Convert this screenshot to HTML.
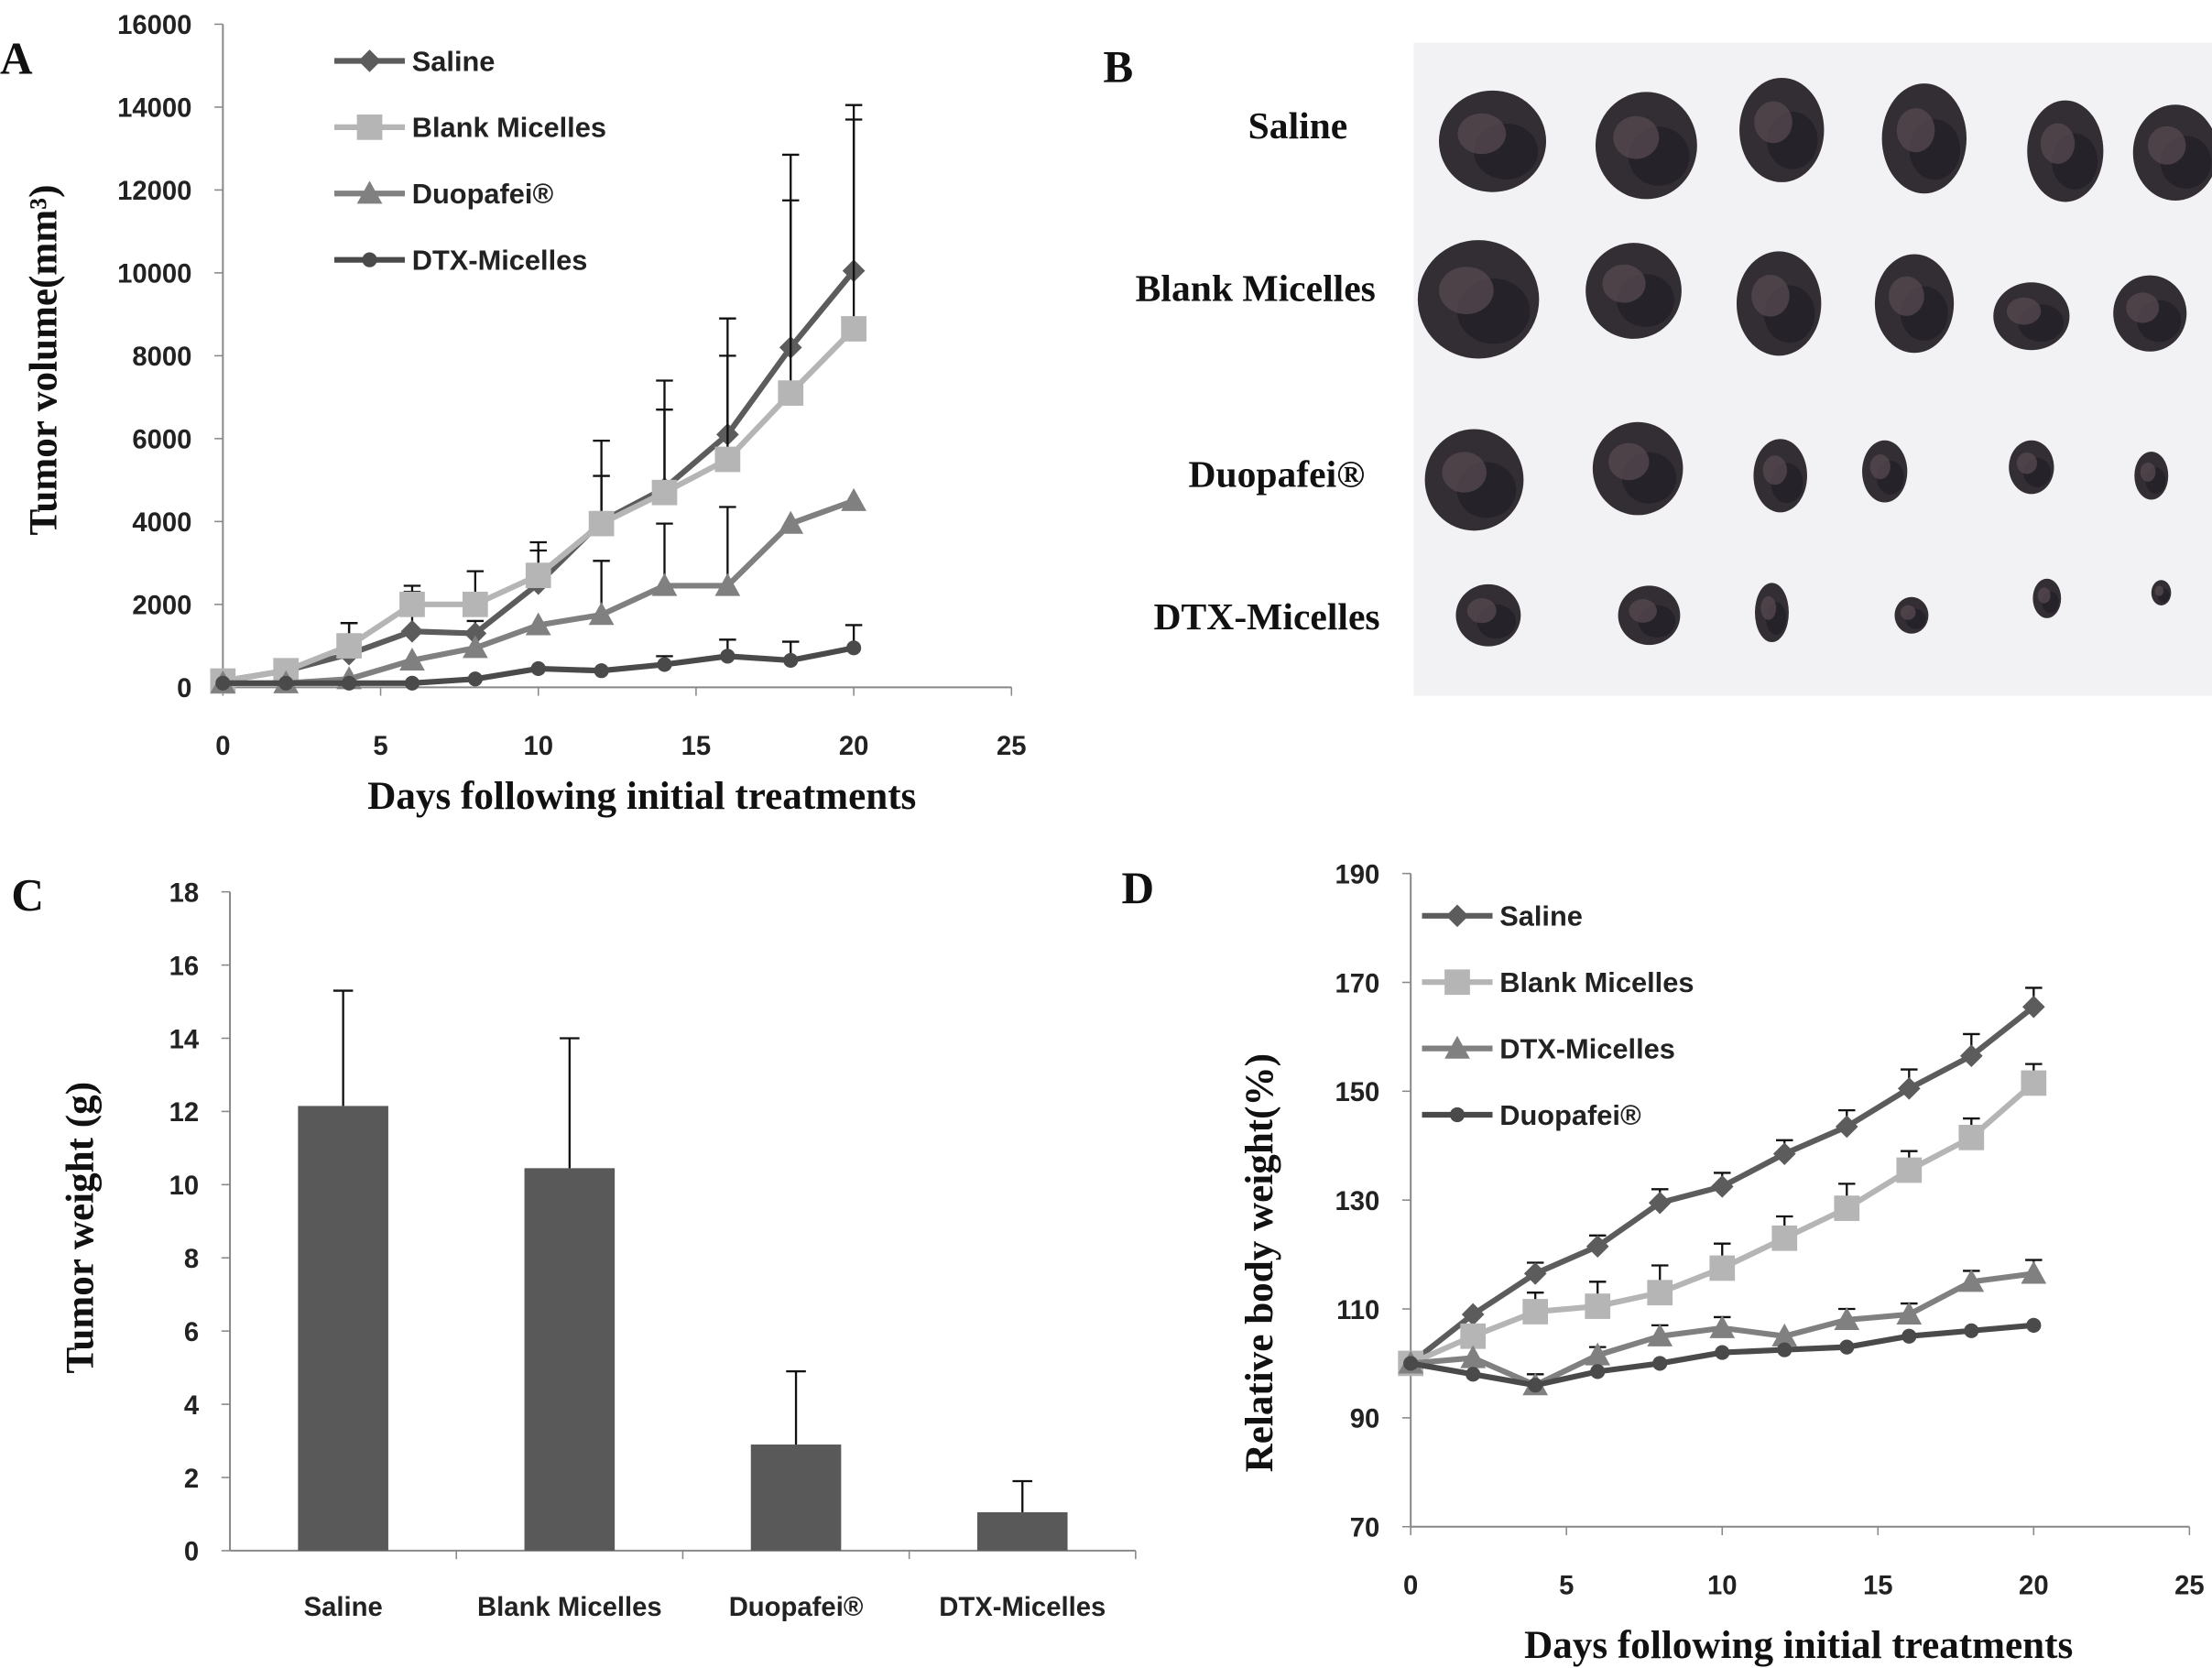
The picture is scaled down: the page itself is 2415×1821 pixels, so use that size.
<!DOCTYPE html>
<html><head><meta charset="utf-8"><style>
html,body{margin:0;padding:0;background:#fff;}
svg{display:block;}
.tk{font-family:"Liberation Sans",sans-serif;font-weight:bold;font-size:19px;fill:#222;}
.tt{font-family:"Liberation Serif",serif;font-weight:bold;font-size:28px;fill:#111;}
.pl{font-family:"Liberation Serif",serif;font-weight:bold;font-size:32px;fill:#111;}
.lg{font-family:"Liberation Sans",sans-serif;font-weight:bold;font-size:20px;fill:#222;}
.bl{font-family:"Liberation Serif",serif;font-weight:bold;font-size:27px;fill:#111;}
</style></head><body>
<svg id="fig" width="2415" height="1821" viewBox="0 0 1568 1182" xmlns="http://www.w3.org/2000/svg">
<g id="pa"></g>
<g id="pb"></g>
<g id="pc"></g>
<g id="pd"></g>
</svg>
<script>
// ---- Panel A data ----
const daysA = [0,2,4,6,8,10,12,14,16,18,20];
const salineA = [150,400,800,1350,1300,2500,4000,4800,6100,8200,10050];
const salineAErr = [null,null,1550,2450,1600,3300,5100,6700,8000,11750,13700];
const blankA = [150,400,1000,2000,2000,2700,3950,4700,5500,7100,8650];
const blankAErr = [null,null,1550,2300,2800,3500,5950,7400,8900,12850,14050];
const duoA = [100,100,200,650,950,1500,1750,2450,2450,3950,4500];
const duoAErr = [null,null,null,null,null,null,3050,3950,4350,null,null];
const dtxA = [100,100,100,100,200,450,400,550,750,650,950];
const dtxAErr = [null,null,null,null,null,null,null,750,1150,1100,1500];
const yTicksA = [0,2000,4000,6000,8000,10000,12000,14000,16000];
const xTicks = [0,5,10,15,20,25];
// ---- Panel C data ----
const groupsC = ["Saline","Blank Micelles","Duopafei\u00AE","DTX-Micelles"];
const weightsC = [12.15,10.45,2.9,1.05];
const weightsCErr = [15.3,14.0,4.9,1.9];
const yTicksC = [0,2,4,6,8,10,12,14,16,18];
// ---- Panel D data ----
const daysD = [0,2,4,6,8,10,12,14,16,18,20];
const salineD = [100,109,116.5,121.5,129.5,132.5,138.5,143.5,150.5,156.5,165.5];
const salineDErr = [null,null,118.5,123.5,132,135,141,146.5,154,160.5,169];
const blankD = [100,105,109.5,110.5,113,117.5,123,128.5,135.5,141.5,151.5];
const blankDErr = [null,null,113,115,118,122,127,133,139,145,155];
const dtxD = [100,101,96,101.5,105,106.5,105,108,109,115,116.5];
const dtxDErr = [null,null,98,103,107,108.5,null,110,111,117,119];
const duoD = [100,98,96,98.5,100,102,102.5,103,105,106,107];
const yTicksD = [70,90,110,130,150,170,190];

const NS="http://www.w3.org/2000/svg";
function mk(parent,tag,attrs,txt){const e=document.createElementNS(NS,tag);for(const k in attrs)e.setAttribute(k,attrs[k]);if(txt!==undefined)e.textContent=txt;parent.appendChild(e);return e;}

function marker(g,type,x,y,col,s){
  if(type==="diamond") return mk(g,"polygon",{points:`${x},${y-s} ${x+s},${y} ${x},${y+s} ${x-s},${y}`,fill:col});
  if(type==="square") return mk(g,"rect",{x:x-s,y:y-s,width:2*s,height:2*s,fill:col});
  if(type==="triangle") return mk(g,"polygon",{points:`${x},${y-s} ${x+s},${y+s*0.8} ${x-s},${y+s*0.8}`,fill:col});
  return mk(g,"circle",{cx:x,cy:y,r:s*0.75,fill:col});
}

function lineChart(g,opt){
  const sx=v=>opt.x0+(v-opt.xmin)/(opt.xmax-opt.xmin)*(opt.x1-opt.x0);
  const sy=v=>opt.y0-(v-opt.ymin)/(opt.ymax-opt.ymin)*(opt.y0-opt.y1);
  const ax=mk(g,"g",{});
  
  
  mk(ax,"line",{x1:opt.x0,y1:opt.y1,x2:opt.x0,y2:opt.y0,stroke:"#888","stroke-width":1.3});
  mk(ax,"line",{x1:opt.x0,y1:opt.y0,x2:opt.x1,y2:opt.y0,stroke:"#888","stroke-width":1.3});
  opt.yt.forEach(t=>{const y=sy(t);mk(ax,"line",{x1:opt.x0-6,y1:y,x2:opt.x0,y2:y,stroke:"#888"});
    const tx=mk(ax,"text",{x:opt.x0-22,y:y+7,"text-anchor":"end",class:"tk"},String(t));
    
    });
  opt.xt.forEach(t=>{const x=sx(t);mk(ax,"line",{x1:x,y1:opt.y0,x2:x,y2:opt.y0+6,stroke:"#888"});
    const tx=mk(ax,"text",{x:x,y:opt.y0+48,"text-anchor":"middle",class:"tk"},String(t));
    
    });
  opt.series.forEach(s=>{
    const sg=mk(g,"g",{});
    
    
    if(s.err) s.err.forEach((e,i)=>{ if(e==null) return; const x=sx(opt.days[i]);
      mk(sg,"line",{x1:x,y1:sy(s.vals[i]),x2:x,y2:sy(e),stroke:"#111","stroke-width":1.5});
      mk(sg,"line",{x1:x-6,y1:sy(e),x2:x+6,y2:sy(e),stroke:"#111","stroke-width":1.5});});
    const pts=s.vals.map((v,i)=>sx(opt.days[i])+","+sy(v)).join(" ");
    mk(sg,"polyline",{points:pts,fill:"none",stroke:s.col,"stroke-width":4});
    s.vals.forEach((v,i)=>{const m=marker(sg,s.mk,sx(opt.days[i]),sy(v),s.col,s.ms);
      
      });
  });
  opt.legend.forEach((s,i)=>{
    const y=opt.ly+i*opt.lgap;
    const lg=mk(g,"g",{});
    
    
    mk(lg,"line",{x1:opt.lx,y1:y,x2:opt.lx+50,y2:y,stroke:s.col,"stroke-width":4});
    marker(lg,s.mk,opt.lx+25,y,s.col,s.ms);
    mk(lg,"text",{x:opt.lx+55,y:y+7,class:"lg"},s.label);
  });
}

const C1="#5c5c5c",C2="#b5b5b5",C3="#808080",C4="#4a4a4a";
// Panel A
const pa=document.getElementById("pa");
const sA=[{key:"saline",label:"Saline",vals:salineA,err:salineAErr,col:C1,mk:"diamond",ms:8},
 {key:"blank-micelles",label:"Blank Micelles",vals:blankA,err:blankAErr,col:C2,mk:"square",ms:9},
 {key:"duopafei",label:"Duopafei\u00AE",vals:duoA,err:duoAErr,col:C3,mk:"triangle",ms:9},
 {key:"dtx-micelles",label:"DTX-Micelles",vals:dtxA,err:dtxAErr,col:C4,mk:"circle",ms:7}];
lineChart(pa,{x0:158,x1:717,y0:487,y1:17,xmin:0,xmax:25,ymin:0,ymax:16000,yt:yTicksA,xt:xTicks,days:daysA,series:sA,legend:sA,lx:237,ly:43,lgap:47});
mk(pa,"text",{x:0,y:52,class:"pl"},"A");
mk(pa,"text",{x:455,y:573,"text-anchor":"middle",class:"tt"},"Days  following initial treatments");
mk(pa,"text",{transform:"translate(40,255) rotate(-90)","text-anchor":"middle",class:"tt"},"Tumor volume(mm³)");

// Panel D
const pd=document.getElementById("pd");
const sD=[{key:"saline",label:"Saline",vals:salineD,err:salineDErr,col:C1,mk:"diamond",ms:8},
 {key:"blank-micelles",label:"Blank Micelles",vals:blankD,err:blankDErr,col:C2,mk:"square",ms:9},
 {key:"dtx-micelles",label:"DTX-Micelles",vals:dtxD,err:dtxDErr,col:C3,mk:"triangle",ms:9},
 {key:"duopafei",label:"Duopafei\u00AE",vals:duoD,err:null,col:C4,mk:"circle",ms:7}];
lineChart(pd,{x0:1000,x1:1552,y0:1082,y1:619,xmin:0,xmax:25,ymin:70,ymax:190,yt:yTicksD,xt:xTicks,days:daysD,series:sD,legend:sD,lx:1008,ly:649,lgap:47});
mk(pd,"text",{x:795,y:640,class:"pl"},"D");
mk(pd,"text",{x:1275,y:1175,"text-anchor":"middle",class:"tt"},"Days  following initial treatments");
mk(pd,"text",{transform:"translate(902,895) rotate(-90)","text-anchor":"middle",class:"tt"},"Relative body weight(%)");

// Panel C
const pc=document.getElementById("pc");
const cx0=163,cx1=805,cy0=1099,cy1=632;
const syC=v=>cy0-v/18*(cy0-cy1);
const bw=(cx1-cx0)/groupsC.length;
mk(pc,"line",{x1:cx0,y1:cy1,x2:cx0,y2:cy0,stroke:"#888","stroke-width":1.3});
mk(pc,"line",{x1:cx0,y1:cy0,x2:cx1,y2:cy0,stroke:"#888","stroke-width":1.3});
yTicksC.forEach(t=>{const y=syC(t);mk(pc,"line",{x1:cx0-6,y1:y,x2:cx0,y2:y,stroke:"#888"});
  const tx=mk(pc,"text",{x:cx0-22,y:y+7,"text-anchor":"end",class:"tk"},String(t));
  
  });
groupsC.forEach((gname,i)=>{
  const xc=cx0+bw*(i+0.5);
  mk(pc,"line",{x1:cx0+bw*(i+1),y1:cy0,x2:cx0+bw*(i+1),y2:cy0+6,stroke:"#888"});
  const b=mk(pc,"rect",{x:xc-32,y:syC(weightsC[i]),width:64,height:cy0-syC(weightsC[i]),fill:"#595959"});
  
  
  mk(pc,"line",{x1:xc,y1:syC(weightsC[i]),x2:xc,y2:syC(weightsCErr[i]),stroke:"#111","stroke-width":1.5});
  mk(pc,"line",{x1:xc-7,y1:syC(weightsCErr[i]),x2:xc+7,y2:syC(weightsCErr[i]),stroke:"#111","stroke-width":1.5});
  const tx=mk(pc,"text",{x:xc,y:cy0+46,"text-anchor":"middle",class:"tk",style:"font-size:19px"},gname);
  
  
});
mk(pc,"text",{x:8,y:645,class:"pl"},"C");
mk(pc,"text",{transform:"translate(66,870) rotate(-90)","text-anchor":"middle",class:"tt"},"Tumor  weight (g)");

// Panel B photo
const pb=document.getElementById("pb");
mk(pb,"text",{x:782,y:58,class:"pl"},"B");
mk(pb,"rect",{x:1002,y:30,width:566,height:463,fill:"#f2f2f4"});
const rowLabels=["Saline","Blank Micelles","Duopafei®","DTX-Micelles"];
const rowLX=[920,890,905,898], rowLY=[98,213,345,446];
rowLabels.forEach((t,i)=>{const tx=mk(pb,"text",{x:rowLX[i],y:rowLY[i],"text-anchor":"middle",class:"bl"},t);
  
  });
const blobs=[
 [[1058,100,38,36],[1167,103,36,38],[1263,92,30,37],[1364,98,30,39],[1464,107,27,36],[1542,108,30,34]],
 [[1048,212,43,42],[1158,206,34,34],[1261,215,30,37],[1357,215,28,35],[1440,224,27,24],[1524,222,26,27]],
 [[1045,340,35,36],[1161,332,32,33],[1262,337,19,26],[1336,334,16,22],[1440,331,16,19],[1525,337,12,17]],
 [[1055,436,23,22],[1169,436,22,21],[1256,434,12,21],[1355,436,12,13],[1451,424,10,14],[1532,420,7,9]]];
blobs.forEach(row=>row.forEach(b=>{
  const e=mk(pb,"ellipse",{cx:b[0],cy:b[1],rx:b[2],ry:b[3],fill:"#332e34"});
  
  
  mk(pb,"ellipse",{cx:b[0]+b[2]*0.25,cy:b[1]+b[3]*0.2,rx:b[2]*0.6,ry:b[3]*0.55,fill:"#252229"});
  mk(pb,"ellipse",{cx:b[0]-b[2]*0.2,cy:b[1]-b[3]*0.15,rx:b[2]*0.45,ry:b[3]*0.4,fill:"#5a4c52",opacity:0.7});
}));
</script>
</body></html>
